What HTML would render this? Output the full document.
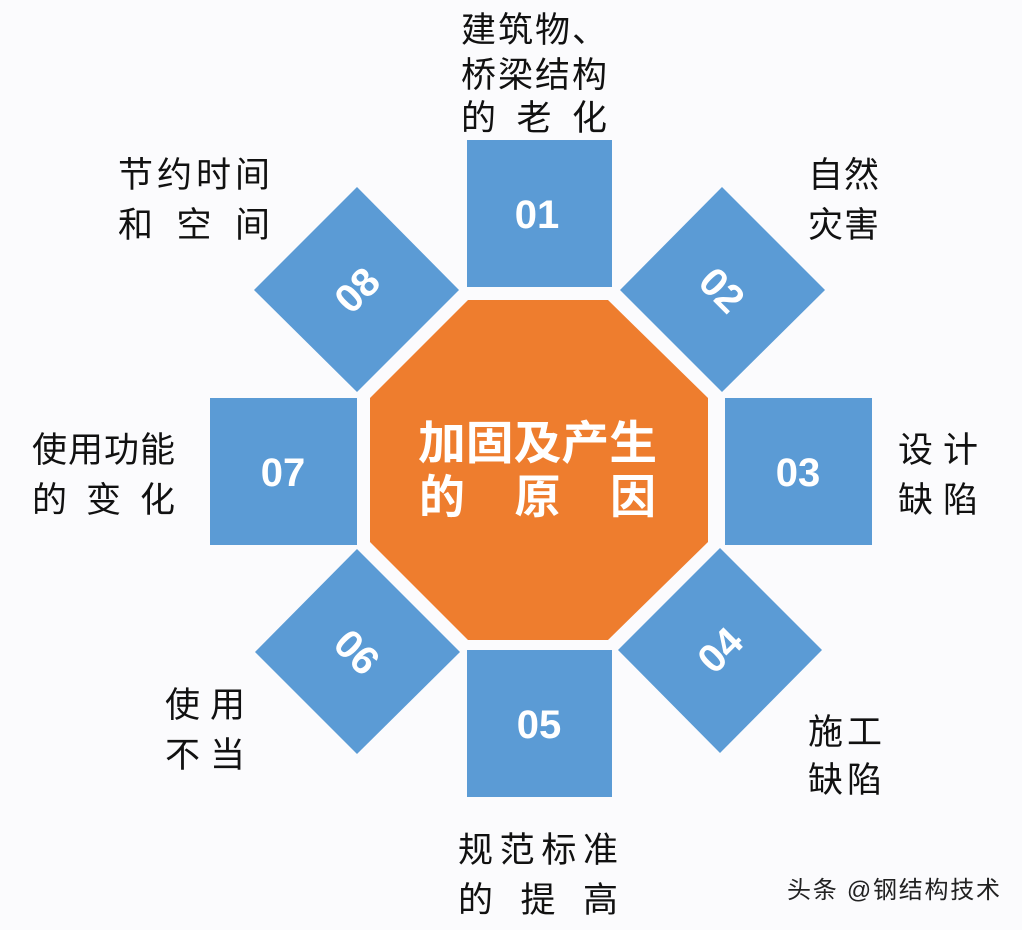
<!DOCTYPE html>
<html><head><meta charset="utf-8"><style>
html,body{margin:0;padding:0;background:#fbfbfd;}
svg{display:block}
text{font-family:"Liberation Sans","Noto Sans CJK SC",sans-serif;}
.l{font-size:35px;fill:#111;}
.n{font-size:40px;fill:#fff;font-weight:bold;}
</style></head><body>
<svg width="1022" height="930" viewBox="0 0 1022 930" xmlns="http://www.w3.org/2000/svg">
<rect width="1022" height="930" fill="#fbfbfd"/>
<polygon points="468,300 608,300 708,398 708,542 608,640 468,640 370,542 370,398" fill="#ee7d2e"/>
<g fill="#5b9bd5">
<rect x="467" y="140" width="145" height="147"/>
<rect x="725" y="398" width="147" height="147"/>
<rect x="467" y="650" width="145" height="147"/>
<rect x="210" y="398" width="147" height="147"/>
<polygon points="357,187 459,290 357,392 254,290"/>
<polygon points="722,187 825,290 722,392 620,290"/>
<polygon points="720,548 822,650 720,753 618,650"/>
<polygon points="357,549 460,652 357,754 255,652"/>
</g>
<g class="n" text-anchor="middle">
<text x="537" y="228">01</text>
<text x="798" y="486">03</text>
<text x="539" y="738">05</text>
<text x="283" y="486">07</text>
<text transform="translate(357,290) rotate(-45)" y="14">08</text>
<text transform="translate(722,290) rotate(45)" y="14">02</text>
<text transform="translate(720,650) rotate(-45)" y="14">04</text>
<text transform="translate(357,652) rotate(45)" y="14">06</text>
</g>
<g fill="#fff" font-weight="bold" style="font-size:46px">
<text x="418" y="459" textLength="239" lengthAdjust="spacingAndGlyphs">加固及产生</text>
<text x="419" y="513" textLength="237">的 原 因</text>
</g>
<g class="l">
<text x="461" y="42" textLength="146">建筑物、</text>
<text x="461" y="87" textLength="146">桥梁结构</text>
<text x="461" y="130" textLength="146">的 老 化</text>
<text x="118" y="187" textLength="152">节约时间</text>
<text x="118" y="237" textLength="152">和 空 间</text>
<text x="808" y="187" textLength="71">自然</text>
<text x="808" y="237" textLength="71">灾害</text>
<text x="32" y="462" textLength="143">使用功能</text>
<text x="32" y="512" textLength="143">的 变 化</text>
<text x="898" y="462" textLength="80">设 计</text>
<text x="898" y="512" textLength="80">缺陷</text>
<text x="165" y="717" textLength="80">使 用</text>
<text x="165" y="767" textLength="80">不 当</text>
<text x="808" y="744" textLength="74">施 工</text>
<text x="808" y="792" textLength="74">缺陷</text>
<text x="458" y="862" textLength="160">规范标准</text>
<text x="458" y="912" textLength="160">的 提 高</text>
</g>
<text x="787" y="898" style="font-size:24px" fill="#222" textLength="213">头条 @钢结构技术</text>
</svg>
</body></html>
